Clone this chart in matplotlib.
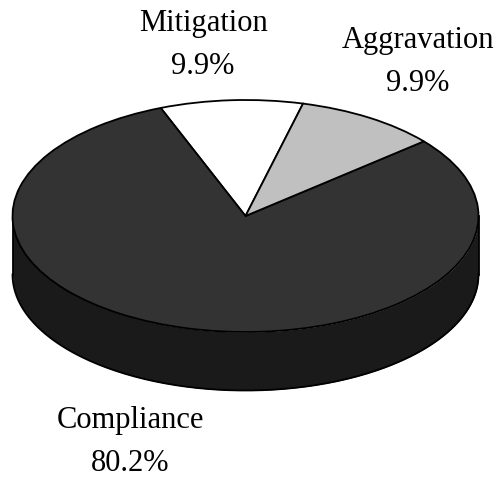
import numpy as np
import matplotlib
matplotlib.use('Agg')
import matplotlib.pyplot as plt

labels = ['Mitigation', 'Compliance', 'Aggravation']
values = [9.9, 80.2, 9.9]
pct_labels = ['9.9%', '80.2%', '9.9%']
top_colors = ['#ffffff', '#333333', '#c0c0c0']
side_color = '#1a1a1a'

plt.rcParams['font.family'] = ['Liberation Serif', 'DejaVu Serif']

W, H = 501, 478
fig = plt.figure(figsize=(W / 100, H / 100), dpi=100)
ax = fig.add_axes([0, 0, 1, 1])

# pixels per unit, the pie is a flattened circle
rx, ry = 233, 116
cx, cy = 245.5, 216
depth = 58.5 / ry
lw = 1.3

# side wall first, same pie moved down
theta = np.linspace(np.pi, 2 * np.pi, 200)
ax.fill_between(np.cos(theta), np.sin(theta), np.sin(theta) - depth, color=side_color, lw=0, zorder=1)
ax.plot(np.cos(theta), np.sin(theta) - depth, color='black', lw=lw, zorder=2)
ax.plot([-1, -1], [0, -depth], color='black', lw=lw, zorder=2)
ax.plot([1, 1], [0, -depth], color='black', lw=lw, zorder=2)

wedges, _ = ax.pie(values, colors=top_colors, startangle=75.7, radius=1,
                   wedgeprops={'edgecolor': 'black', 'linewidth': lw, 'zorder': 3})

ax.set_aspect('auto')
ax.set_xlim(-cx / rx, (W - cx) / rx)
ax.set_ylim((cy - H) / ry, cy / ry)
ax.axis('off')

def to_data(px, py):
    return (px - cx) / rx, (cy - py) / ry

label_pos = [(203, 45), (130, 442), (418, 62)]
for name, pct, (px, py) in zip(labels, pct_labels, label_pos):
    x, y = to_data(px, py)
    ax.text(x, y, name + '\n' + pct, ha='center', va='center', fontsize=22, linespacing=1.6, color='black')

fig.savefig('out.png', dpi=100)
